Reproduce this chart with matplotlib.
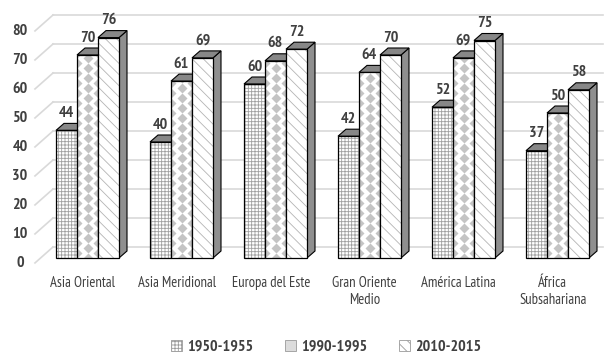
import numpy as np
import matplotlib.pyplot as plt
from matplotlib.patches import Polygon, Rectangle, Patch

# life expectancy by region
regions = ["Asia Oriental", "Asia Meridional", "Europa del Este",
           "Gran Oriente\nMedio", "América Latina", "África\nSubsahariana"]
periods = ["1950-1955", "1990-1995", "2010-2015"]
v1950 = [44, 40, 60, 42, 52, 37]
v1990 = [70, 61, 68, 64, 69, 50]
v2010 = [76, 69, 72, 70, 75, 58]
yticks = [0, 10, 20, 30, 40, 50, 60, 70, 80]

plt.rcParams['font.family'] = ['PT Sans Narrow', 'DejaVu Sans']
plt.rcParams['hatch.linewidth'] = 0.6
txt = '#404040'

fig = plt.figure(figsize=(6.06, 3.54), dpi=100)
ax = fig.add_axes([0, 0, 1, 1])
ax.set_xlim(-87.5 / 94, (606 - 87.5) / 94)
ax.set_ylim(-96 / 2.9, (354 - 96) / 2.9)
ax.axis('off')

w = 21 / 94          # bar width
ddx = 8 / 94         # depth offset x
ddy = 7 / 2.9        # depth offset y
wall_x0 = (53 - 87.5) / 94
wall_x1 = (603 - 87.5) / 94
wall_dy = 11 / 2.9

# back wall grid + left wall lines + axis labels
for v in yticks:
    ax.plot([wall_x0, wall_x1], [v + wall_dy, v + wall_dy], color='#d9d9d9', lw=1.2, zorder=0)
    ax.plot([(35 - 87.5) / 94, wall_x0], [v - 1.7, v + wall_dy], color='#d9d9d9', lw=1.2, zorder=0)
    ax.text((20 - 87.5) / 94, v - 1.7, str(v), ha='center', va='center',
            fontsize=11.5, fontweight='bold', color=txt)

x = np.arange(len(regions))
series = [v1950, v1990, v2010]
hatches = ['+++++', None, '\\\\\\']
hatch_cols = ['#a0a0a0', None, '#b4b4b4']
z = 2
for i in range(len(regions)):
    for s in range(3):
        val = series[s][i]
        xc = x[i] + (s - 1) * w
        l, r = xc - w / 2, xc + w / 2
        # side and top faces
        side = Polygon([(r, 0), (r + ddx, ddy), (r + ddx, val + ddy), (r, val)],
                       closed=True, fc='#8f8f8f', ec='black', lw=0.8, zorder=z)
        top = Polygon([(l, val), (l + ddx, val + ddy), (r + ddx, val + ddy), (r, val)],
                      closed=True, fc='#878787', ec='black', lw=0.8, zorder=z)
        ax.add_patch(side)
        ax.add_patch(top)
        # front face
        ax.bar(xc, val, w, color='white', hatch=hatches[s], edgecolor=hatch_cols[s] or 'white',
               lw=0, zorder=z + 0.1)
        if s == 1:
            clip = Rectangle((l, 0), w, val, transform=ax.transData)
            step = 10 / 2.9
            for k, off in [(-1, 0.5), (0, 0.0), (1, 0.5)]:
                ys = np.arange(off * step, val + step, step)
                pts, = ax.plot(np.full(len(ys), xc + k * w / 2), ys, ls='none', marker='D',
                               ms=5.2, mfc='#c4c4c4', mec='none', zorder=z + 0.2)
                pts.set_clip_path(clip)
        ax.bar(xc, val, w, color='none', edgecolor='black', lw=0.9, zorder=z + 0.3)
        ax.text(xc, val + 3.6, str(val), ha='center', va='bottom', fontsize=11.5,
                fontweight='bold', color=txt, zorder=20)
        z += 1
    ax.text(x[i] - 0.05, -6.3, regions[i], ha='center', va='top', fontsize=10.5,
            color=txt, linespacing=1.25)

handles = [Patch(fc='white', ec='#9a9a9a', hatch='+++++', lw=0.6, label=periods[0]),
           Patch(fc='#dcdcdc', ec='#9a9a9a', lw=0.6, label=periods[1]),
           Patch(fc='white', ec='#9a9a9a', hatch='\\\\\\', lw=0.6, label=periods[2])]
fig.legend(handles=handles, loc='center', bbox_to_anchor=(0.538, 7 / 354), ncol=3,
           frameon=False, handlelength=0.7, handleheight=0.7, handletextpad=0.3,
           columnspacing=2.0, prop={'weight': 'bold', 'size': 11.5}, labelcolor=txt)

fig.savefig('out.png', dpi=100)
